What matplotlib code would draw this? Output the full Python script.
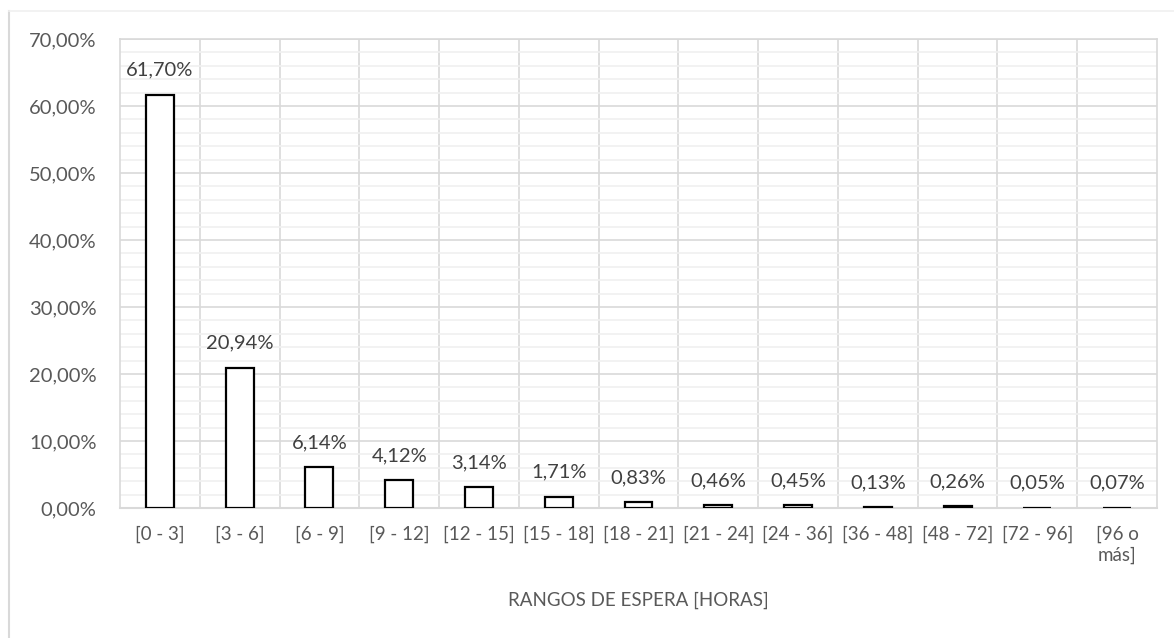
import numpy as np
import matplotlib.pyplot as plt
from matplotlib.ticker import MultipleLocator, FuncFormatter
from matplotlib.lines import Line2D

# Data
categorias = ['[0 - 3]', '[3 - 6]', '[6 - 9]', '[9 - 12]', '[12 - 15]', '[15 - 18]',
              '[18 - 21]', '[21 - 24]', '[24 - 36]', '[36 - 48]', '[48 - 72]',
              '[72 - 96]', '[96 o\nmás]']
porcentajes = [61.70, 20.94, 6.14, 4.12, 3.14, 1.71, 0.83, 0.46, 0.45, 0.13, 0.26, 0.05, 0.07]

plt.rcParams['font.family'] = ['Lato', 'DejaVu Sans']

W, H = 1174, 638
fig = plt.figure(figsize=(W / 100, H / 100), dpi=100)
ax = fig.add_axes([120 / W, 1 - 508 / H, (1157 - 120) / W, (508 - 39) / H])

x = np.arange(len(categorias))
ax.bar(x, porcentajes, width=0.35, color='white', edgecolor='black', linewidth=1.6, zorder=3)

for xi, v in zip(x, porcentajes):
    ax.annotate(f'{v:.2f}%'.replace('.', ','), (xi, v), xytext=(0, 11.5),
                textcoords='offset points', ha='center', va='bottom',
                fontsize=14.5, color='#404040', zorder=4)

ax.set_xlim(-0.5, len(categorias) - 0.5)
ax.set_ylim(0, 70)
ax.yaxis.set_major_locator(MultipleLocator(10))
ax.yaxis.set_minor_locator(MultipleLocator(2))
ax.yaxis.set_major_formatter(FuncFormatter(lambda v, p: f'{v:.2f}%'.replace('.', ',')))

# gridlines: minor horizontal, major horizontal and vertical separators
ax.grid(which='minor', axis='y', color='#f0f0f0', lw=1.2, zorder=0)
ax.grid(which='major', axis='y', color='#d9d9d9', lw=1.2, zorder=1)
for b in np.arange(0.5, len(categorias) - 0.5):
    ax.axvline(b, color='#d9d9d9', lw=1.2, zorder=1)

ax.set_xticks(x)
ax.set_xticklabels(categorias, fontsize=13.5, color='#595959', linespacing=1.25, va='top')
ax.tick_params(axis='y', which='both', length=0, labelsize=14.5, labelcolor='#595959', pad=17)
ax.tick_params(axis='x', length=0, pad=13)

for s in ['top', 'right', 'left']:
    ax.spines[s].set_color('#d9d9d9')
    ax.spines[s].set_linewidth(1.2)
ax.spines['bottom'].set_color('#d9d9d9')
ax.spines['bottom'].set_linewidth(1.5)

ax.set_xlabel('RANGOS DE ESPERA [HORAS]', fontsize=13.5, color='#595959', labelpad=20)

# outer chart border
fig.add_artist(Line2D([9 / W, 9 / W], [0, 1 - 11 / H], color='#d9d9d9', lw=1.5))
fig.add_artist(Line2D([9 / W, 1], [1 - 11 / H, 1 - 11 / H], color='#f0f0f0', lw=1.2))

fig.savefig('out.png', dpi=100)
